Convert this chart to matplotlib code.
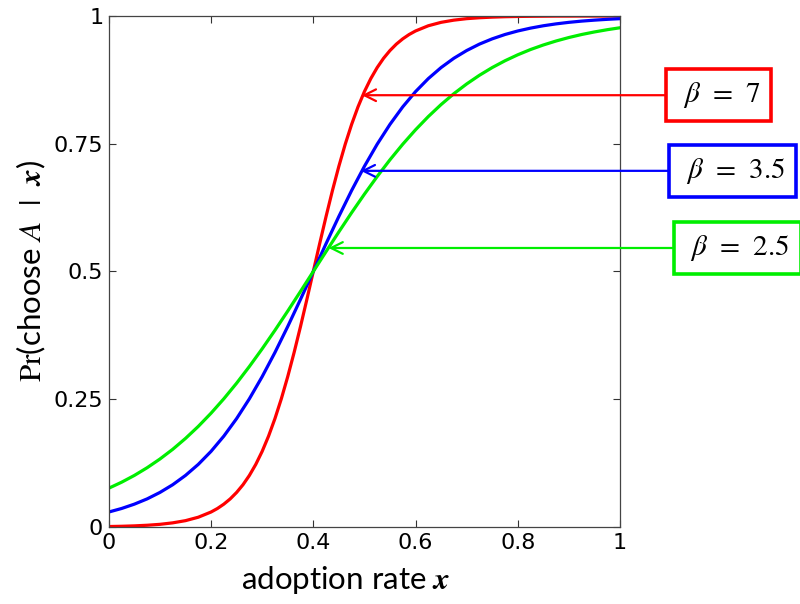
import numpy as np
import matplotlib.pyplot as plt

plt.rcParams['mathtext.fontset'] = 'stix'

# adoption rate x (shared grid)
x = [0.000, 0.025, 0.050, 0.075, 0.100, 0.125, 0.150, 0.175, 0.200, 0.225,
     0.250, 0.275, 0.300, 0.325, 0.350, 0.375, 0.400, 0.425, 0.450, 0.475,
     0.500, 0.525, 0.550, 0.575, 0.600, 0.625, 0.650, 0.675, 0.700, 0.725,
     0.750, 0.775, 0.800, 0.825, 0.850, 0.875, 0.900, 0.925, 0.950, 0.975, 1.000]

# beta = 7 is steep, so it is read on a finer grid around the middle
x_b7 = [0.000, 0.025, 0.050, 0.075, 0.100, 0.125, 0.150, 0.175, 0.200,
        0.2125, 0.225, 0.2375, 0.250, 0.2625, 0.275, 0.2875, 0.300, 0.3125,
        0.325, 0.3375, 0.350, 0.3625, 0.375, 0.3875, 0.400, 0.4125, 0.425,
        0.4375, 0.450, 0.4625, 0.475, 0.4875, 0.500, 0.5125, 0.525, 0.5375,
        0.550, 0.5625, 0.575, 0.5875, 0.600, 0.625, 0.650, 0.675, 0.700,
        0.725, 0.750, 0.775, 0.800, 0.825, 0.850, 0.875, 0.900, 0.925,
        0.950, 0.975, 1.000]
p_b7 = [0.0009, 0.0014, 0.0022, 0.0034, 0.0052, 0.0081, 0.0124, 0.0191, 0.0293,
        0.0362, 0.0447, 0.0550, 0.0676, 0.0827, 0.1009, 0.1225, 0.1480, 0.1778,
        0.2121, 0.2509, 0.2942, 0.3415, 0.3923, 0.4455, 0.5000, 0.5545, 0.6077,
        0.6585, 0.7058, 0.7491, 0.7879, 0.8222, 0.8520, 0.8775, 0.8991, 0.9173,
        0.9324, 0.9450, 0.9553, 0.9638, 0.9707, 0.9809, 0.9876, 0.9919, 0.9948,
        0.9966, 0.9978, 0.9986, 0.9991, 0.9994, 0.9996, 0.9998, 0.9998, 0.9999,
        0.9999, 0.9999, 1.0]

p_b35 = [0.0293, 0.0362, 0.0447, 0.0550, 0.0676, 0.0827, 0.1009, 0.1225, 0.1480, 0.1778,
         0.2121, 0.2509, 0.2942, 0.3415, 0.3923, 0.4455, 0.5000, 0.5545, 0.6077, 0.6585,
         0.7058, 0.7491, 0.7879, 0.8222, 0.8520, 0.8775, 0.8991, 0.9173, 0.9324, 0.9450,
         0.9553, 0.9638, 0.9707, 0.9763, 0.9809, 0.9846, 0.9876, 0.9900, 0.9919, 0.9935, 0.9948]

p_b25 = [0.0759, 0.0876, 0.1009, 0.1160, 0.1330, 0.1520, 0.1733, 0.1968, 0.2227, 0.2509,
         0.2814, 0.3141, 0.3487, 0.3849, 0.4225, 0.4610, 0.5000, 0.5390, 0.5775, 0.6151,
         0.6513, 0.6859, 0.7186, 0.7491, 0.7773, 0.8032, 0.8267, 0.8480, 0.8670, 0.8840,
         0.8991, 0.9124, 0.9241, 0.9344, 0.9433, 0.9511, 0.9579, 0.9638, 0.9688, 0.9732, 0.9770]

labels = [r'$\,\,\beta\;\,=\;\,7\,\,$', r'$\,\,\beta\;\,=\;\,3.5\,\,$', r'$\,\,\beta\;\,=\;\,2.5\,\,$']
colors = ['#ff0000', '#0000ff', '#00ee00']
# points on the curves the arrows point at
arrow_x = [0.495, 0.493, 0.43]
arrow_y = [0.845, 0.697, 0.546]
# box centres (data x, outside the axes)
box_x = [1.193, 1.220, 1.229]

xticks = [0, 0.2, 0.4, 0.6, 0.8, 1]
xticklabels = ['0', '0.2', '0.4', '0.6', '0.8', '1']
yticks = [0, 0.25, 0.5, 0.75, 1]
yticklabels = ['0', '0.25', '0.5', '0.75', '1']

fig = plt.figure(figsize=(8, 6.04), dpi=100)
ax = fig.add_axes([0.136, 0.1275, 0.639, 0.846])

ax.plot(x_b7, p_b7, color=colors[0], lw=2.3)
ax.plot(x, p_b35, color=colors[1], lw=2.3)
ax.plot(x, p_b25, color=colors[2], lw=2.3)

ax.set_xlim(0, 1)
ax.set_ylim(0, 1)
ax.set_xticks(xticks)
ax.set_xticklabels(xticklabels)
ax.set_yticks(yticks)
ax.set_yticklabels(yticklabels)
ax.tick_params(direction='in', length=5, width=0.8, labelsize=16,
               top=True, right=True, pad=4, color='#333333')
for s in ax.spines.values():
    s.set_color('#444444')
    s.set_linewidth(0.9)

ax.set_xlabel(r'adoption rate $\mathbfit{x}$', fontsize=22.5, family='Lato')
ax.xaxis.set_label_coords(0.464, -0.072)
ax.set_ylabel(r'$\mathrm{Pr}$(choose $A\ \ |\ \ \mathbfit{x}$)', fontsize=22.5, family='Lato')
ax.yaxis.set_label_coords(-0.118, 0.5)

for lab, c, axx, ayy, bx in zip(labels, colors, arrow_x, arrow_y, box_x):
    ax.annotate(lab, xy=(axx, ayy), xytext=(bx, ayy), xycoords='data', textcoords='data',
                fontsize=21, ha='center', va='center', annotation_clip=False,
                bbox=dict(boxstyle='square,pad=0.37', fc='white', ec=c, lw=2.6),
                arrowprops=dict(arrowstyle='->,head_length=0.4,head_width=0.2', color=c,
                                lw=1.6, shrinkA=0, shrinkB=0))

fig.savefig('out.png', dpi=100)
